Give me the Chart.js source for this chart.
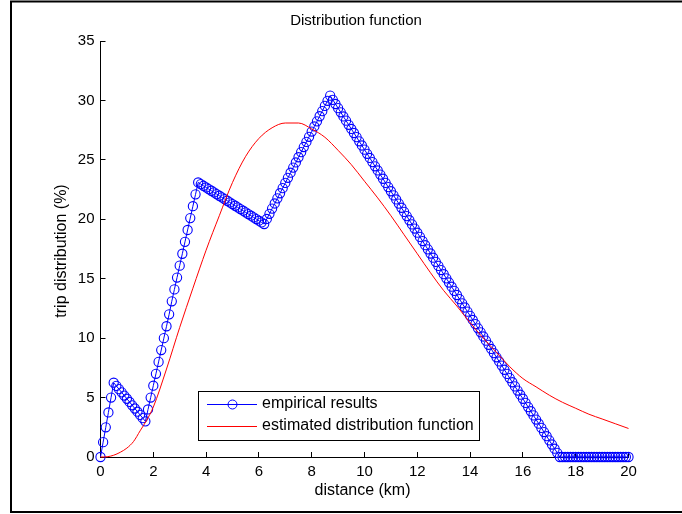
<!DOCTYPE html>
<html>
<head>
<meta charset="utf-8">
<script src="https://cdn.jsdelivr.net/npm/chart.js@4.4.0/dist/chart.umd.min.js"></script>
<style>
  html, body { margin: 0; padding: 0; background: #fff; }
  canvas { display: block; }
</style>
</head>
<body>
<canvas id="chart" width="682" height="514"></canvas>
<script>
// distance grid of the empirical curve (km)
const distance = [
  0, 0.1, 0.2, 0.3, 0.4, 0.5, 0.6, 0.7, 0.8, 0.9,
  1, 1.1, 1.2, 1.3, 1.4, 1.5, 1.6, 1.7, 1.8, 1.9,
  2, 2.1, 2.2, 2.3, 2.4, 2.5, 2.6, 2.7, 2.8, 2.9,
  3, 3.1, 3.2, 3.3, 3.4, 3.5, 3.6, 3.7, 3.8, 3.9,
  4, 4.1, 4.2, 4.3, 4.4, 4.5, 4.6, 4.7, 4.8, 4.9,
  5, 5.1, 5.2, 5.3, 5.4, 5.5, 5.6, 5.7, 5.8, 5.9,
  6, 6.1, 6.2, 6.3, 6.4, 6.5, 6.6, 6.7, 6.8, 6.9,
  7, 7.1, 7.2, 7.3, 7.4, 7.5, 7.6, 7.7, 7.8, 7.9,
  8, 8.1, 8.2, 8.3, 8.4, 8.5, 8.6, 8.7, 8.8, 8.9,
  9, 9.1, 9.2, 9.3, 9.4, 9.5, 9.6, 9.7, 9.8, 9.9,
  10, 10.1, 10.2, 10.3, 10.4, 10.5, 10.6, 10.7, 10.8, 10.9,
  11, 11.1, 11.2, 11.3, 11.4, 11.5, 11.6, 11.7, 11.8, 11.9,
  12, 12.1, 12.2, 12.3, 12.4, 12.5, 12.6, 12.7, 12.8, 12.9,
  13, 13.1, 13.2, 13.3, 13.4, 13.5, 13.6, 13.7, 13.8, 13.9,
  14, 14.1, 14.2, 14.3, 14.4, 14.5, 14.6, 14.7, 14.8, 14.9,
  15, 15.1, 15.2, 15.3, 15.4, 15.5, 15.6, 15.7, 15.8, 15.9,
  16, 16.1, 16.2, 16.3, 16.4, 16.5, 16.6, 16.7, 16.8, 16.9,
  17, 17.1, 17.2, 17.3, 17.4, 17.5, 17.6, 17.7, 17.8, 17.9,
  18, 18.1, 18.2, 18.3, 18.4, 18.5, 18.6, 18.7, 18.8, 18.9,
  19, 19.1, 19.2, 19.3, 19.4, 19.5, 19.6, 19.7, 19.8, 19.9,
  20
];

// empirical results (%)
const empirical = [
  0, 1.25, 2.5, 3.75, 5.0, 6.25, 5.98, 5.71, 5.44, 5.17,
  4.90, 4.63, 4.35, 4.08, 3.81, 3.54, 3.27, 3.00, 4.0, 5.0,
  6.0, 7.0, 8.0, 9.0, 10.0, 11.0, 12.0, 13.1, 14.1, 15.1,
  16.1, 17.1, 18.1, 19.1, 20.1, 21.1, 22.1, 23.1, 22.96, 22.82,
  22.68, 22.54, 22.40, 22.26, 22.12, 21.98, 21.84, 21.70, 21.56, 21.42,
  21.28, 21.14, 21.00, 20.86, 20.72, 20.58, 20.44, 20.30, 20.16, 20.02,
  19.88, 19.74, 19.60, 20.03, 20.46, 20.90, 21.33, 21.76, 22.19, 22.62,
  23.06, 23.49, 23.92, 24.35, 24.78, 25.22, 25.65, 26.08, 26.51, 26.94,
  27.38, 27.81, 28.24, 28.67, 29.10, 29.54, 29.97, 30.40, 30.05, 29.70,
  29.35, 29.00, 28.65, 28.30, 27.95, 27.60, 27.26, 26.91, 26.56, 26.21,
  25.86, 25.51, 25.16, 24.81, 24.46, 24.11, 23.76, 23.41, 23.06, 22.71,
  22.36, 22.01, 21.67, 21.32, 20.97, 20.62, 20.27, 19.92, 19.57, 19.22,
  18.87, 18.52, 18.17, 17.82, 17.47, 17.12, 16.77, 16.42, 16.08, 15.73,
  15.38, 15.03, 14.68, 14.33, 13.98, 13.63, 13.28, 12.93, 12.58, 12.23,
  11.88, 11.53, 11.18, 10.83, 10.49, 10.14, 9.79, 9.44, 9.09, 8.74,
  8.39, 8.04, 7.69, 7.34, 6.99, 6.64, 6.29, 5.94, 5.59, 5.24,
  4.90, 4.55, 4.20, 3.85, 3.50, 3.15, 2.80, 2.45, 2.10, 1.75,
  1.40, 1.05, 0.70, 0.35, 0, 0, 0, 0, 0, 0,
  0, 0, 0, 0, 0, 0, 0, 0, 0, 0,
  0, 0, 0, 0, 0, 0, 0, 0, 0, 0,
  0
];

// estimated distribution function
const estDistance = [0, 0.25, 0.5, 0.75, 1, 1.25, 1.5, 1.75, 2, 2.5, 3, 3.5, 4, 4.5, 5, 5.5, 6, 6.5, 7, 7.5,
  8, 8.5, 9, 9.5, 10, 10.5, 11, 11.5, 12, 12.5, 13, 13.5, 14, 14.5, 15, 15.5, 16, 16.5, 17, 17.5,
  18, 18.5, 19, 19.5, 20];
const estimated = [0, 0.02, 0.15, 0.4, 0.75, 1.3, 2.2, 3.1, 4.2, 7.4, 10.9, 14.2, 17.4, 20.3, 23.1, 25.3, 26.8, 27.7, 28.1, 28.1,
  27.6, 26.9, 25.8, 24.6, 23.2, 21.8, 20.3, 18.7, 17.1, 15.5, 14.0, 12.7, 11.3, 10.0, 8.8, 7.6, 6.6, 5.9, 5.2, 4.6,
  4.1, 3.6, 3.2, 2.8, 2.4];

const xTicks = [0, 2, 4, 6, 8, 10, 12, 14, 16, 18, 20];
const yTicks = [0, 5, 10, 15, 20, 25, 30, 35];

const seriesNames = ['empirical results', 'estimated distribution function'];
const titleText = 'Distribution function';
const xTitle = 'distance (km)';
const yTitle = 'trip distribution (%)';

const FONT = '"Liberation Sans", Arial, Helvetica, sans-serif';
const BLUE = '#0000ff';
const RED = '#ff0000';

// frame, titles and the boxed legend
const decorations = {
  id: 'decorations',
  beforeDraw(chart) {
    const ctx = chart.ctx;
    ctx.save();
    ctx.fillStyle = '#fff';
    ctx.fillRect(0, 0, chart.width, chart.height);
    ctx.restore();
  },
  afterDraw(chart) {
    const ctx = chart.ctx;
    const a = chart.chartArea;
    ctx.save();

    ctx.strokeStyle = '#000';
    ctx.lineWidth = 2;
    ctx.beginPath();
    ctx.moveTo(700, 1.5);
    ctx.lineTo(11, 1.5);
    ctx.lineTo(11, 512);
    ctx.lineTo(700, 512);
    ctx.stroke();

    ctx.fillStyle = '#000';
    ctx.textBaseline = 'middle';
    ctx.textAlign = 'center';
    ctx.font = '15px ' + FONT;
    ctx.fillText(titleText, 356, 21);
    ctx.font = '16px ' + FONT;
    ctx.fillText(xTitle, (a.left + a.right) / 2 - 2, 491);
    ctx.save();
    ctx.translate(62, 251);
    ctx.rotate(-Math.PI / 2);
    ctx.fillText(yTitle, 0, 0);
    ctx.restore();

    // legend
    ctx.fillStyle = '#fff';
    ctx.fillRect(198.5, 391.5, 281, 49);
    ctx.strokeStyle = '#000';
    ctx.lineWidth = 1;
    ctx.strokeRect(198.5, 391.5, 281, 49);

    ctx.strokeStyle = BLUE;
    ctx.beginPath();
    ctx.moveTo(207, 404.5);
    ctx.lineTo(257, 404.5);
    ctx.stroke();
    ctx.beginPath();
    ctx.arc(232.5, 404.5, 4.5, 0, Math.PI * 2);
    ctx.stroke();

    ctx.strokeStyle = RED;
    ctx.beginPath();
    ctx.moveTo(207, 426.5);
    ctx.lineTo(257, 426.5);
    ctx.stroke();

    ctx.fillStyle = '#000';
    ctx.textAlign = 'left';
    ctx.font = '16px ' + FONT;
    ctx.fillText(seriesNames[0], 262, 404);
    ctx.fillText(seriesNames[1], 262, 426);
    ctx.restore();
  }
};

new Chart(document.getElementById('chart'), {
  type: 'line',
  data: {
    datasets: [
      {
        label: seriesNames[0],
        data: distance.map((d, i) => ({ x: d, y: empirical[i] })),
        borderColor: BLUE,
        borderWidth: 1,
        pointStyle: 'circle',
        pointRadius: 4.6,
        pointBorderWidth: 1.1,
        pointBorderColor: BLUE,
        pointBackgroundColor: 'rgba(0,0,0,0)',
        tension: 0,
        clip: false,
        order: 1
      },
      {
        label: seriesNames[1],
        data: estDistance.map((d, i) => ({ x: d, y: estimated[i] })),
        borderColor: RED,
        borderWidth: 1,
        pointRadius: 0,
        cubicInterpolationMode: 'monotone',
        clip: false,
        order: 0
      }
    ]
  },
  options: {
    responsive: false,
    animation: false,
    devicePixelRatio: 1,
    layout: { padding: { left: 0, top: 41, right: 53.5, bottom: 0 } },
    plugins: {
      legend: { display: false },
      title: { display: false },
      tooltip: { enabled: false }
    },
    scales: {
      x: {
        type: 'linear',
        min: 0,
        max: 20,
        afterBuildTicks: (s) => { s.ticks = xTicks.map(v => ({ value: v })); },
        afterFit: (s) => { s.height = 57; },
        grid: { drawOnChartArea: false, drawTicks: true, tickLength: -5, color: '#000' },
        border: { display: true, color: '#000', width: 1 },
        ticks: { color: '#000', padding: 11, maxRotation: 0, autoSkip: false, font: { family: FONT, size: 15 } }
      },
      y: {
        type: 'linear',
        min: 0,
        max: 35,
        afterBuildTicks: (s) => { s.ticks = yTicks.map(v => ({ value: v })); },
        afterFit: (s) => { s.width = 100.5; },
        grid: { drawOnChartArea: false, drawTicks: true, tickLength: -5, color: '#000' },
        border: { display: true, color: '#000', width: 1 },
        ticks: { color: '#000', padding: 11, autoSkip: false, font: { family: FONT, size: 15 } }
      }
    }
  },
  plugins: [decorations]
});
</script>
</body>
</html>
